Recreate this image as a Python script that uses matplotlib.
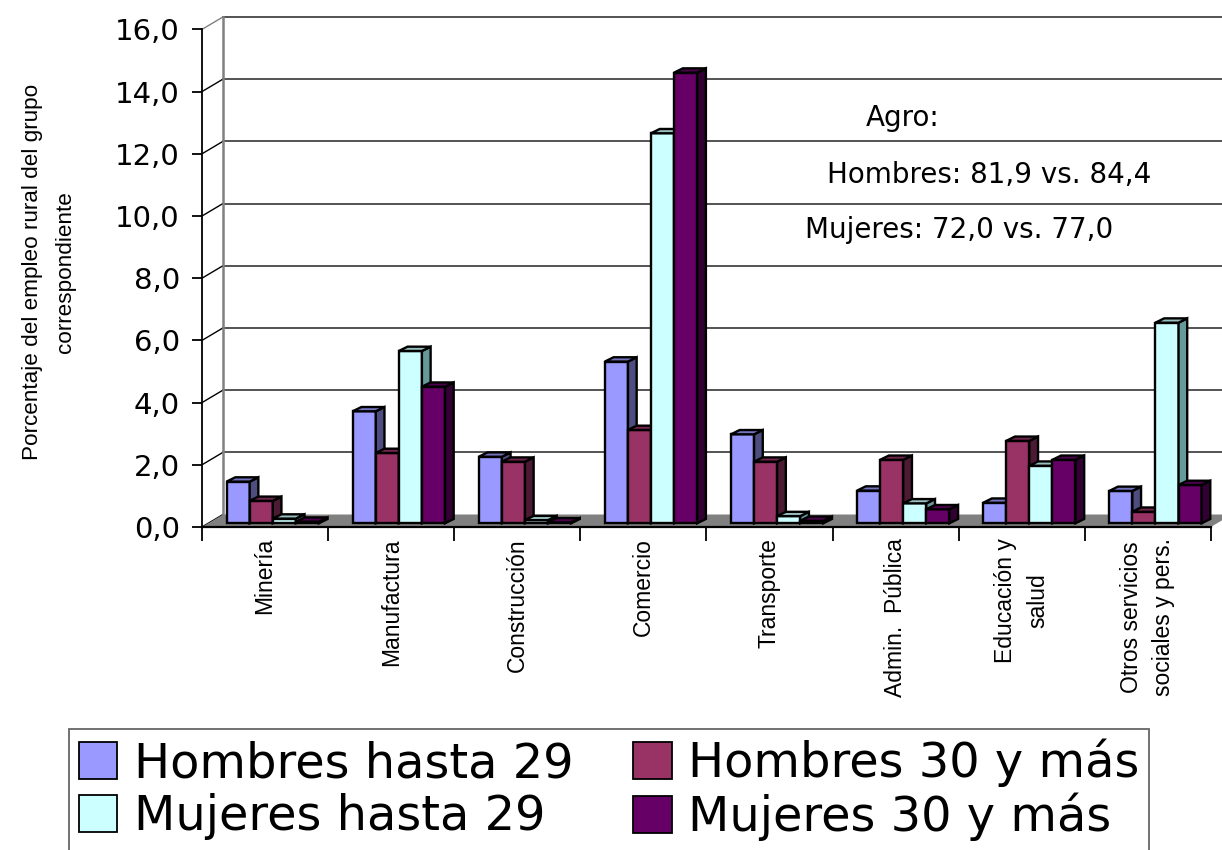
import matplotlib
matplotlib.use('Agg')
import matplotlib.pyplot as plt
from matplotlib.patches import Polygon, Patch
from matplotlib import font_manager

# datos
categorias = ['Minería', 'Manufactura', 'Construcción', 'Comercio', 'Transporte',
              'Admin.  Pública', 'Educación y\nsalud', 'Otros servicios\nsociales y pers.']
series = ['Hombres hasta 29', 'Hombres 30 y más', 'Mujeres hasta 29', 'Mujeres 30 y más']
hombres_hasta_29 = [1.34, 3.60, 2.14, 5.20, 2.86, 1.05, 0.66, 1.04]
hombres_30_mas = [0.72, 2.26, 1.98, 3.00, 1.98, 2.04, 2.65, 0.37]
mujeres_hasta_29 = [0.15, 5.54, 0.10, 12.54, 0.23, 0.64, 1.85, 6.45]
mujeres_30_mas = [0.05, 4.39, 0.03, 14.49, 0.08, 0.45, 2.04, 1.23]
y_ticks = [0, 2, 4, 6, 8, 10, 12, 14, 16]
agro_textos = ['Agro:', 'Hombres: 81,9 vs. 84,4', 'Mujeres: 72,0 vs. 77,0']

valores = [hombres_hasta_29, hombres_30_mas, mujeres_hasta_29, mujeres_30_mas]
colores_frente = ['#9999FF', '#993366', '#CCFFFF', '#660066']
colores_lado = ['#4D4D80', '#4D1A33', '#669999', '#330033']
colores_techo = ['#7373BF', '#73264D', '#99BFBF', '#4D004D']

nombres = {f.name for f in font_manager.fontManager.ttflist}
if 'Liberation Sans Narrow' in nombres:
    estrecha, t_cat, t_ylab = 'Liberation Sans Narrow', 20.5, 19.5
elif 'DejaVu Sans Condensed' in nombres:
    estrecha, t_cat, t_ylab = 'DejaVu Sans Condensed', 16.5, 16
else:
    estrecha, t_cat, t_ylab = 'Liberation Sans', 16.5, 16.2
ancha = 'DejaVu Sans'

W, H = 1222, 850
fig = plt.figure(figsize=(W / 100, H / 100), dpi=100)

# geometria en pixeles del original
px_x, px_y = 202, 527
ux, uy = 126.1, 31.1
ymax = 16.5
xmax = (W - px_x) / ux
ax = fig.add_axes([px_x / W, (H - px_y) / H, (W - px_x) / W, ymax * uy / H])
ax.set_xlim(0, xmax)
ax.set_ylim(0, ymax)

dx, dy = 21 / ux, 12.5 / uy      # profundidad de la pared del fondo
ddx, ddy = 8.7 / ux, 4.3 / uy     # profundidad de cada barra
base = 0.12
bw = 0.183
off = 0.195

# pared del fondo y piso
for t in y_ticks:
    if t > 0:
        ax.plot([dx, xmax], [t + dy, t + dy], color='#454545', lw=1.3, zorder=0.5)
    ax.plot([0, dx], [t, t + dy], color='#808080' if t == 16 else 'black', lw=1.0, zorder=0.6)
ax.plot([dx, dx], [dy, 16 + dy], color='#808080', lw=1.8, zorder=0.6)
ax.add_patch(Polygon([(0, 0), (8, 0), (8 + dx, dy), (dx, dy)],
                     facecolor='#808080', edgecolor='none', zorder=1))

# barras con caras laterales y superiores
for k, vals in enumerate(valores):
    xs = [i + off + k * bw for i in range(len(categorias))]
    ax.bar(xs, vals, width=bw, bottom=base, align='edge', color=colores_frente[k],
           edgecolor='black', linewidth=1.7, zorder=2 + k)
    for x, v in zip(xs, vals):
        top = base + v
        lado = Polygon([(x + bw, base), (x + bw + ddx, base + ddy),
                        (x + bw + ddx, top + ddy), (x + bw, top)],
                       facecolor=colores_lado[k], edgecolor='black', lw=1.7, zorder=2 + k)
        techo = Polygon([(x, top), (x + ddx, top + ddy),
                         (x + bw + ddx, top + ddy), (x + bw, top)],
                        facecolor=colores_techo[k], edgecolor='black', lw=1.7, zorder=2 + k)
        ax.add_patch(lado)
        ax.add_patch(techo)

for s in ['top', 'right']:
    ax.spines[s].set_visible(False)
ax.spines['left'].set_bounds(0, 16)
ax.spines['left'].set_linewidth(1.3)
ax.spines['bottom'].set_bounds(0, 8)
ax.spines['bottom'].set_linewidth(1.6)

ax.set_yticks(y_ticks)
ax.set_yticklabels([f'{t:.1f}'.replace('.', ',') for t in y_ticks], fontsize=21, family=ancha)
ax.tick_params(axis='y', length=7, width=1.3, pad=9)

ax.set_xticks([i + 0.5 for i in range(len(categorias))])
ax.set_xticklabels(categorias, rotation=90, ha='center', va='top', fontsize=t_cat,
                   family=estrecha, linespacing=1.5, multialignment='center')
ax.tick_params(axis='x', which='major', length=0, pad=8)
ax.set_xticks(range(len(categorias) + 1), minor=True)
ax.tick_params(axis='x', which='minor', length=10, width=1.3)

fig.text(49 / W, 1 - 272 / H, 'Porcentaje del empleo rural del grupo\ncorrespondiente',
         rotation=90, ha='center', va='center', multialignment='center',
         fontsize=t_ylab, family=estrecha, linespacing=1.75)

# texto Agro
for txt, (xp, yp) in zip(agro_textos, [(866, 118), (827, 175), (805, 230)]):
    fig.text(xp / W, 1 - yp / H, txt, ha='left', va='center', fontsize=20, family=ancha)

orden = [0, 2, 1, 3]
handles = [Patch(facecolor=colores_frente[k], edgecolor='black', lw=1.3) for k in orden]
leg = fig.legend(handles, [series[k] for k in orden], loc='upper left',
                 bbox_to_anchor=(69 / W, 1 - 729 / H), ncol=2,
                 prop={'family': ancha, 'size': 34.5}, frameon=True, fancybox=False,
                 edgecolor='#404040', borderpad=0.2, handlelength=0.8, handleheight=0.8,
                 handletextpad=0.35, columnspacing=1.25, labelspacing=0.12, borderaxespad=0)
leg.get_frame().set_linewidth(1.3)

fig.savefig('out.png', dpi=100)
